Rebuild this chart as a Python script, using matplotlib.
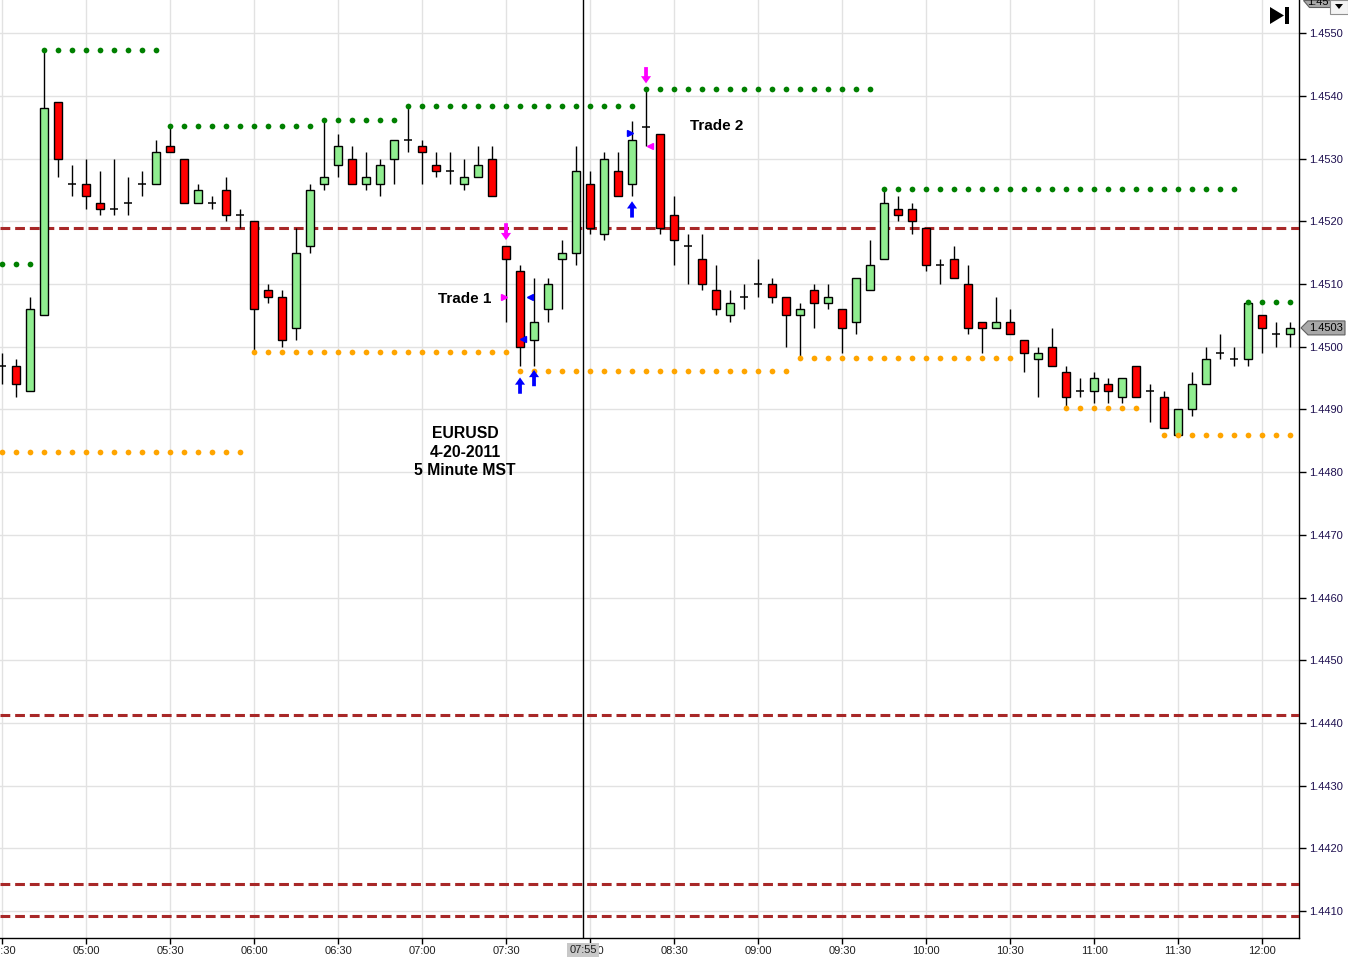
import matplotlib
matplotlib.use('Agg')
import matplotlib.pyplot as plt
from matplotlib.patches import Rectangle, Polygon

plt.rcParams['font.family'] = ['Liberation Sans', 'DejaVu Sans']

# ---------------- data ----------------
times = ['04:30', '04:35', '04:40', '04:45', '04:50', '04:55', '05:00', '05:05', '05:10', '05:15', '05:20', '05:25',
         '05:30', '05:35', '05:40', '05:45', '05:50', '05:55', '06:00', '06:05', '06:10', '06:15', '06:20', '06:25',
         '06:30', '06:35', '06:40', '06:45', '06:50', '06:55', '07:00', '07:05', '07:10', '07:15', '07:20', '07:25',
         '07:30', '07:35', '07:40', '07:45', '07:50', '07:55', '08:00', '08:05', '08:10', '08:15', '08:20', '08:25',
         '08:30', '08:35', '08:40', '08:45', '08:50', '08:55', '09:00', '09:05', '09:10', '09:15', '09:20', '09:25',
         '09:30', '09:35', '09:40', '09:45', '09:50', '09:55', '10:00', '10:05', '10:10', '10:15', '10:20', '10:25',
         '10:30', '10:35', '10:40', '10:45', '10:50', '10:55', '11:00', '11:05', '11:10', '11:15', '11:20', '11:25',
         '11:30', '11:35', '11:40', '11:45', '11:50', '11:55', '12:00', '12:05', '12:10']

opens = [1.4497, 1.4497, 1.4493, 1.4505, 1.4539, 1.4526, 1.4526, 1.4523, 1.4522, 1.4523, 1.4526, 1.4526, 1.4532, 1.4530, 1.4523, 1.4523,
         1.4525, 1.4521, 1.4520, 1.4509, 1.4508, 1.4503, 1.4516, 1.4526, 1.4529, 1.4530, 1.4526, 1.4526, 1.4530, 1.4533, 1.4532,
         1.4529, 1.4528, 1.4526, 1.4527, 1.4530, 1.4516, 1.4512, 1.4501, 1.4506, 1.4514, 1.4515, 1.4526, 1.4518, 1.4528, 1.4526, 1.4535,
         1.4534, 1.4521, 1.4516, 1.4514, 1.4509, 1.4505, 1.4508, 1.4510, 1.4510, 1.4508, 1.4505, 1.4509, 1.4507, 1.4506, 1.4504, 1.4509,
         1.4514, 1.4522, 1.4522, 1.4519, 1.4513, 1.4514, 1.4510, 1.4504, 1.4503, 1.4504, 1.4501, 1.4498, 1.4500, 1.4496,
         1.4493, 1.4493, 1.4494, 1.4492, 1.4497, 1.4493, 1.4492, 1.4486, 1.4490, 1.4494, 1.4499, 1.4498, 1.4498, 1.4505, 1.4502, 1.4502]

highs = [1.4499, 1.4498, 1.4508, 1.4547, 1.4539, 1.4529, 1.4530, 1.4528, 1.4530, 1.4527, 1.4528, 1.4533, 1.4535, 1.4530, 1.4526, 1.4524,
         1.4527, 1.4522, 1.4520, 1.4510, 1.4509, 1.4519, 1.4526, 1.4536, 1.4534, 1.4532, 1.4531, 1.4530, 1.4533, 1.4538, 1.4533,
         1.4531, 1.4531, 1.4530, 1.4532, 1.4532, 1.4516, 1.4513, 1.4511, 1.4511, 1.4517, 1.4532, 1.4528, 1.4531, 1.4531, 1.4536, 1.4541,
         1.4534, 1.4524, 1.4518, 1.4518, 1.4513, 1.4509, 1.4510, 1.4514, 1.4511, 1.4508, 1.4507, 1.4510, 1.4510, 1.4506, 1.4511, 1.4517,
         1.4525, 1.4524, 1.4523, 1.4519, 1.4514, 1.4516, 1.4513, 1.4504, 1.4508, 1.4506, 1.4501, 1.4500, 1.4503, 1.4497,
         1.4495, 1.4496, 1.4495, 1.4495, 1.4497, 1.4494, 1.4493, 1.4490, 1.4496, 1.4500, 1.4502, 1.4500, 1.4507, 1.4505, 1.4504, 1.4504]

lows = [1.4494, 1.4492, 1.4493, 1.4505, 1.4527, 1.4524, 1.4522, 1.4521, 1.4521, 1.4521, 1.4524, 1.4526, 1.4531, 1.4523, 1.4523, 1.4522,
        1.4520, 1.4519, 1.4499, 1.4507, 1.4500, 1.4501, 1.4515, 1.4525, 1.4527, 1.4526, 1.4525, 1.4524, 1.4526, 1.4531, 1.4526,
        1.4527, 1.4526, 1.4525, 1.4527, 1.4524, 1.4504, 1.4497, 1.4497, 1.4504, 1.4506, 1.4513, 1.4518, 1.4517, 1.4524, 1.4524, 1.4532,
        1.4518, 1.4513, 1.4510, 1.4509, 1.4505, 1.4504, 1.4506, 1.4508, 1.4507, 1.4500, 1.4498, 1.4503, 1.4506, 1.4499, 1.4502, 1.4509,
        1.4514, 1.4520, 1.4518, 1.4512, 1.4510, 1.4511, 1.4502, 1.4499, 1.4503, 1.4502, 1.4496, 1.4492, 1.4497, 1.4490,
        1.4492, 1.4491, 1.4491, 1.4491, 1.4492, 1.4488, 1.4487, 1.4486, 1.4489, 1.4494, 1.4498, 1.4497, 1.4497, 1.4499, 1.4500, 1.4500]

closes = [1.4497, 1.4494, 1.4506, 1.4538, 1.4530, 1.4526, 1.4524, 1.4522, 1.4522, 1.4523, 1.4526, 1.4531, 1.4531, 1.4523, 1.4525, 1.4523,
          1.4521, 1.4521, 1.4506, 1.4508, 1.4501, 1.4515, 1.4525, 1.4527, 1.4532, 1.4526, 1.4527, 1.4529, 1.4533, 1.4533, 1.4531,
          1.4528, 1.4528, 1.4527, 1.4529, 1.4524, 1.4514, 1.4500, 1.4504, 1.4510, 1.4515, 1.4528, 1.4519, 1.4530, 1.4524, 1.4533, 1.4535,
          1.4519, 1.4517, 1.4516, 1.4510, 1.4506, 1.4507, 1.4508, 1.4510, 1.4508, 1.4505, 1.4506, 1.4507, 1.4508, 1.4503, 1.4511, 1.4513,
          1.4523, 1.4521, 1.4520, 1.4513, 1.4513, 1.4511, 1.4503, 1.4503, 1.4504, 1.4502, 1.4499, 1.4499, 1.4497, 1.4492,
          1.4493, 1.4495, 1.4493, 1.4495, 1.4492, 1.4493, 1.4487, 1.4490, 1.4494, 1.4498, 1.4499, 1.4498, 1.4507, 1.4503, 1.4502, 1.4503]

# dotted resistance (green) and support (orange) levels
green_levels = [1.45132, 1.45473, 1.45352, 1.45361, 1.45384, 1.45411, 1.45251, 1.45071]
green_start = ['04:30', '04:45', '05:30', '06:25', '06:55', '08:20', '09:45', '11:55']
green_end = ['04:40', '05:25', '06:20', '06:50', '08:15', '09:40', '11:50', '12:10']
orange_levels = [1.44832, 1.44991, 1.44961, 1.44982, 1.44902, 1.44860]
orange_start = ['04:30', '06:00', '07:35', '09:15', '10:50', '11:25']
orange_end = ['05:55', '07:30', '09:10', '10:30', '11:15', '12:10']

dashed_levels = [1.45190, 1.44412, 1.44143, 1.44092]

# trade signal arrows (time, tail price, tip price)
sell_arrow_times = ['07:30', '08:20']
sell_arrow_tail = [1.45197, 1.45446]
sell_arrow_tip = [1.45170, 1.45420]
buy_arrow_times = ['07:35', '07:40', '08:15']
buy_arrow_tail = [1.44925, 1.44937, 1.45206]
buy_arrow_tip = [1.44951, 1.44963, 1.45232]

# small execution triangles (time, offset in bars, price, marker, color)
tri_times = ['07:30', '07:35', '07:40', '08:15', '08:20']
tri_offsets = [-0.14, 0.22, -0.29, -0.14, 0.29]
tri_prices = [1.45079, 1.45012, 1.45079, 1.45341, 1.45320]
tri_markers = ['>', '<', '<', '>', '<']
tri_colors = ['#FF00FF', '#0000FF', '#0000FF', '#0000FF', '#FF00FF']

yticks = [1.4410, 1.4420, 1.4430, 1.4440, 1.4450, 1.4460, 1.4470, 1.4480,
          1.4490, 1.4500, 1.4510, 1.4520, 1.4530, 1.4540, 1.4550]
xtick_labels = ['04:30', '05:00', '05:30', '06:00', '06:30', '07:00', '07:30', '08:00',
                '08:30', '09:00', '09:30', '10:00', '10:30', '11:00', '11:30', '12:00']
cursor_time = '07:55'
last_price = closes[-1]

# ---------------- figure ----------------
W, H = 1348, 957
fig = plt.figure(figsize=(W / 100, H / 100), dpi=100)
fig.patch.set_facecolor('white')
ax = fig.add_axes([0, 19 / H, 1299 / W, 938 / H])

idx = {t: i for i, t in enumerate(times)}

ax.set_xlim(-0.143, 92.64)
ax.set_ylim(1.44057, 1.45553)

# grid
ax.set_axisbelow(True)
ax.grid(True, color='#E2E2E2', lw=1.0)

# dashed levels
for lv in dashed_levels:
    ax.axhline(lv, color='#A82828', lw=2.2, ls=(0, (3.2, 1.6)), zorder=3)

# candles
bw = 0.56
for i in range(len(times)):
    o, h, l, c = opens[i], highs[i], lows[i], closes[i]
    ax.vlines(i, l, h, color='black', lw=1.0, zorder=4)
    if c == o:
        ax.hlines(o, i - bw / 2, i + bw / 2, color='black', lw=1.1, zorder=5)
    else:
        col = '#90EE90' if c > o else '#FF0000'
        ax.add_patch(Rectangle((i - bw / 2, min(o, c)), bw, abs(c - o), facecolor=col,
                               edgecolor='black', lw=1.0, zorder=5))

# dotted levels
for lv, s, e in zip(green_levels, green_start, green_end):
    xs = list(range(idx[s], idx[e] + 1))
    ax.scatter(xs, [lv] * len(xs), s=17, color='#008000', linewidths=0, zorder=6)
for lv, s, e in zip(orange_levels, orange_start, orange_end):
    xs = list(range(idx[s], idx[e] + 1))
    ax.scatter(xs, [lv] * len(xs), s=17, color='#FFA500', linewidths=0, zorder=6)

# arrows (vertical, so width is in bar units and length in price units)
def draw_arrow(x, tail, tip, color):
    ax.arrow(x, tail, 0, tip - tail, width=0.27, head_width=0.72, head_length=0.000115,
             length_includes_head=True, color=color, lw=0, zorder=7)

for t, a, b in zip(sell_arrow_times, sell_arrow_tail, sell_arrow_tip):
    draw_arrow(idx[t], a, b, '#FF00FF')
for t, a, b in zip(buy_arrow_times, buy_arrow_tail, buy_arrow_tip):
    draw_arrow(idx[t], a, b, '#0000FF')

for t, off, p, m, c in zip(tri_times, tri_offsets, tri_prices, tri_markers, tri_colors):
    ax.plot(idx[t] + off, p, marker=m, color=c, markersize=4.5, zorder=7, linestyle='none')

# cursor line
ax.axvline(idx[cursor_time] + 0.5, color='black', lw=1.0, zorder=8)

# texts
ax.text(33.07, 1.45076, 'Trade 1', ha='center', va='center', fontsize=11, fontweight='bold', zorder=9)
ax.text(51.07, 1.45352, 'Trade 2', ha='center', va='center', fontsize=11, fontweight='bold', zorder=9)
ax.text(33.07, 1.44832, 'EURUSD\n4-20-2011\n5 Minute MST', ha='center', va='center',
        fontsize=11.3, fontweight='bold', linespacing=1.3, zorder=9)

# axes styling
for sp in ['top', 'left']:
    ax.spines[sp].set_visible(False)
ax.spines['right'].set_color('black')
ax.spines['bottom'].set_color('black')
ax.spines['right'].set_linewidth(1.0)
ax.spines['bottom'].set_linewidth(1.0)

ax.yaxis.tick_right()
ax.set_yticks(yticks)
ax.set_yticklabels(['%.4f' % v for v in yticks])
ax.tick_params(axis='y', direction='out', length=5, width=1, labelsize=8, labelcolor='#1E1050',
               pad=2, color='black')
ax.set_xticks([idx[t] for t in xtick_labels])
ax.set_xticklabels(xtick_labels)
ax.tick_params(axis='x', direction='out', length=4, width=1, labelsize=8, labelcolor='#202020',
               pad=2, color='black')

# ---------- UI decorations (figure pixel coordinates) ----------
def fp(x, y):
    return (x / W, 1 - y / H)

# cursor time label
fig.text(*fp(583, 950), cursor_time, ha='center', va='center', fontsize=8, color='#202020',
         bbox=dict(facecolor='#C8C8C8', edgecolor='none', pad=1.6), zorder=10)

# current price label
fig.canvas.draw()
ypix = H - ax.transData.transform((0, last_price))[1]
pts = [fp(1301, ypix), fp(1308, ypix - 7), fp(1345, ypix - 7), fp(1345, ypix + 7), fp(1308, ypix + 7)]
fig.add_artist(Polygon(pts, closed=True, transform=fig.transFigure, facecolor='#A8A8A8',
                       edgecolor='#606060', lw=0.8))
fig.text(*fp(1326, ypix), '%.4f' % last_price, ha='center', va='center', fontsize=8, color='black')

# top-right icon and controls
fig.add_artist(Polygon([fp(1270, 7), fp(1270, 24), fp(1284, 15.5)], closed=True,
                       transform=fig.transFigure, facecolor='black', edgecolor='none'))
fig.add_artist(Rectangle(fp(1285, 24), 4 / W, 17 / H, transform=fig.transFigure,
                         facecolor='black', edgecolor='none'))
fig.add_artist(Polygon([fp(1303, 0), fp(1330, 0), fp(1330, 7), fp(1309, 7)], closed=True,
                       transform=fig.transFigure, facecolor='#A8A8A8', edgecolor='#606060', lw=0.8))
fig.text(*fp(1318, 2), '1.45', ha='center', va='center', fontsize=8, color='black')
fig.add_artist(Rectangle(fp(1330, 14), 18 / W, 14 / H, transform=fig.transFigure,
                         facecolor='#F4F4F4', edgecolor='#909090', lw=0.8))
fig.add_artist(Polygon([fp(1335, 4), fp(1343, 4), fp(1339, 9)], closed=True,
                       transform=fig.transFigure, facecolor='black', edgecolor='none'))

fig.savefig('out.png', dpi=100, facecolor='white')
